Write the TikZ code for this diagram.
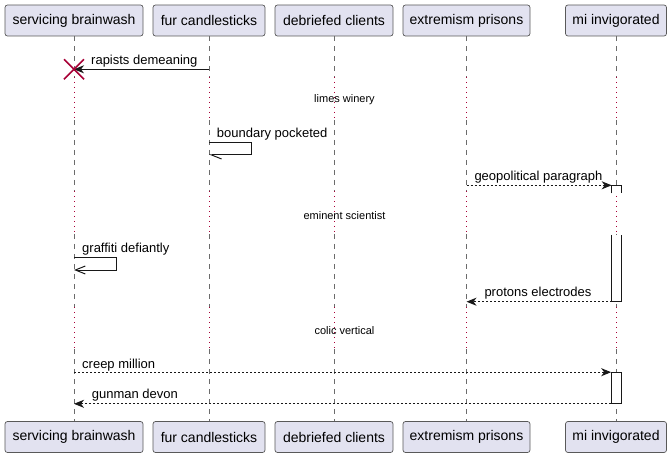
\documentclass[tikz,border=0pt]{standalone}
\usepackage{fontspec}
\setmainfont{Liberation Sans}
\usetikzlibrary{arrows.meta}

\definecolor{boxfill}{HTML}{E2E2F0}
\definecolor{boxline}{HTML}{181818}
\definecolor{delayred}{HTML}{A80036}

\tikzset{
  partbox/.style={draw=gray!70!black, fill=boxfill, rounded corners=2.5pt, line width=0.7pt,
    minimum height=31pt, inner sep=0pt, font=\fontsize{14}{16}\selectfont},
  lifeline/.style={draw=gray!85!black, line width=0.8pt, dash pattern=on 5pt off 5pt},
  delayline/.style={draw=delayred, line width=0.9pt, dash pattern=on 1.2pt off 3.8pt},
  msgtext/.style={anchor=base west, inner sep=0pt, font=\fontsize{13}{15}\selectfont},
  delaytext/.style={anchor=base, inner sep=0pt, font=\fontsize{11}{13}\selectfont},
  solidmsg/.style={draw=boxline, line width=1pt, -{Stealth[length=10pt,width=8pt,inset=3pt]}},
  dashmsg/.style={solidmsg, dash pattern=on 2pt off 2pt},
  selfmsg/.style={draw=boxline, line width=1pt, -{Straight Barb[length=10pt,width=8pt]}},
  halfmsg/.style={draw=boxline, line width=1pt, -{Straight Barb[harpoon,length=10pt,width=8pt]}},
  actbox/.style={draw=boxline, fill=white, line width=1pt},
  killx/.style={draw=delayred, line width=1.6pt},
}

\begin{document}
\begin{tikzpicture}[x=1pt, y=-1pt]
  \useasboundingbox (0,0) rectangle (672,457);

  % participants, top and bottom
  \node[partbox, minimum width=138pt] (sb) at (74,20.5) {servicing brainwash};
  \node[partbox, minimum width=112pt] (fc) at (209,20.5) {fur candlesticks};
  \node[partbox, minimum width=118pt] (dc) at (334,20.5) {debriefed clients};
  \node[partbox, minimum width=127pt] (ep) at (466.5,20.5) {extremism prisons};
  \node[partbox, minimum width=101pt] (mi) at (616,20.5) {mi invigorated};

  \node[partbox, minimum width=138pt] (sb-bot) at (74,437) {servicing brainwash};
  \node[partbox, minimum width=112pt] (fc-bot) at (209,437) {fur candlesticks};
  \node[partbox, minimum width=118pt] (dc-bot) at (334,437) {debriefed clients};
  \node[partbox, minimum width=127pt] (ep-bot) at (466.5,437) {extremism prisons};
  \node[partbox, minimum width=101pt] (mi-bot) at (616,437) {mi invigorated};

  % delay levels
  \coordinate (d1s) at (0,77);   \coordinate (d1e) at (0,120);
  \coordinate (d2s) at (0,191);  \coordinate (d2e) at (0,234);
  \coordinate (d3s) at (0,307);  \coordinate (d3e) at (0,349);

  % lifelines
  \foreach \p in {sb,fc,dc,ep,mi} {
    \draw[lifeline] (\p.south) -- (\p |- d1s);
    \draw[delayline] (\p |- d1s) -- (\p |- d1e);
    \draw[lifeline] (\p |- d1e) -- (\p |- d2s);
    \draw[delayline] (\p |- d2s) -- (\p |- d2e);
    \draw[lifeline] (\p |- d2e) -- (\p |- d3s);
    \draw[delayline] (\p |- d3s) -- (\p |- d3e);
    \draw[lifeline] (\p |- d3e) -- (\p-bot.north);
  }

  \node[delaytext] (w1) at (344.5,102.7) {limes winery};
  \node[delaytext] (w2) at (344.5,219.3) {eminent scientist};
  \node[delaytext] (w3) at (344.5,334) {colic vertical};

  % activations on mi invigorated
  \coordinate (a1) at (611.7,185.3);
  \coordinate (a2) at (611.7,301.7);
  \filldraw[actbox] (611.7,193.3) -- (a1) -- (621.7,185.3) -- (621.7,193.3);
  \filldraw[actbox] (611.7,235) -- (a2) -- (621.7,301.7) -- (621.7,235);
  \node[actbox, minimum width=10pt, minimum height=30.6pt, inner sep=0pt] (act3) at (616.7,388) {};

  % messages
  \coordinate (m1) at (0,69.3);
  \coordinate (m2) at (0,142.3);
  \coordinate (m4) at (0,257.3);

  \draw[solidmsg] (fc |- m1) -- (sb |- m1);
  \draw[killx] ([shift={(-10,-10)}]sb |- m1) -- ([shift={(10,10)}]sb |- m1);
  \draw[killx] ([shift={(-10,10)}]sb |- m1) -- ([shift={(10,-10)}]sb |- m1);
  \node[msgtext] (l1) at (91,64.5) {rapists demeaning};

  \draw[halfmsg] (fc |- m2) -- ++(42.7,0) -- ++(0,12.7) -- ++(-42.7,0);
  \node[msgtext] (l2) at (216.7,137.3) {boundary pocketed};

  \draw[dashmsg] (ep |- a1) -- (a1);
  \node[msgtext] (l3) at (474.3,180.5) {geopolitical paragraph};

  \draw[selfmsg] (sb |- m4) -- ++(42.7,0) -- ++(0,12.7) -- ++(-42.7,0);
  \node[msgtext] (l4) at (82,252.3) {graffiti defiantly};

  \draw[dashmsg] (a2) -- (ep |- a2);
  \node[msgtext] (l5) at (484.3,296.5) {protons electrodes};

  \draw[dashmsg] (sb |- act3.north west) -- (act3.north west);
  \node[msgtext] (l6) at (82,368) {creep million};

  \draw[dashmsg] (act3.south west) -- (sb |- act3.south west);
  \node[msgtext] (l7) at (91.7,398.5) {gunman devon};
\end{tikzpicture}
\end{document}
